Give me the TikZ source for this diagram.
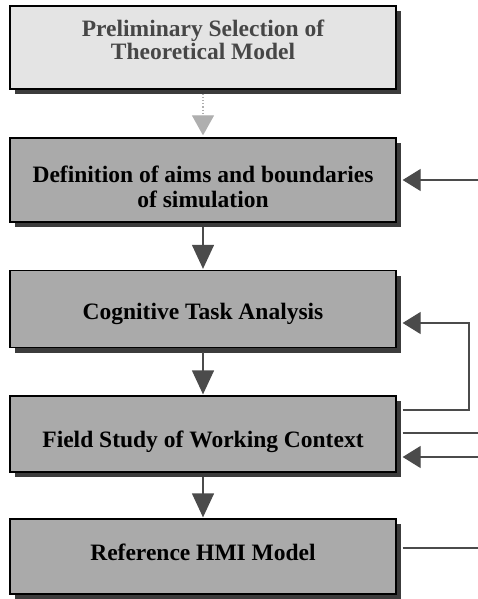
\documentclass[tikz,border=0pt]{standalone}
\usepackage{fontspec}
\setmainfont{Liberation Serif}
\usetikzlibrary{arrows.meta,shadows}
\definecolor{palefill}{RGB}{228,228,228}
\definecolor{boxfill}{RGB}{170,170,170}
\definecolor{shade}{RGB}{60,60,60}
\definecolor{paletext}{RGB}{70,70,70}
\definecolor{palearrow}{RGB}{175,175,175}
\definecolor{darkarrow}{RGB}{75,75,75}
\tikzset{
  stepbox/.style={draw=black, line width=1.3pt, fill=boxfill,
    minimum width=386pt, inner sep=0pt,
    drop shadow={shadow xshift=5pt, shadow yshift=-5pt, fill=shade, opacity=1}},
  palebox/.style={stepbox, fill=palefill},
  steptext/.style={anchor=base, inner sep=0pt, align=center,
    font=\fontsize{23.5}{25}\selectfont\bfseries},
  paletextstyle/.style={steptext, text=paletext,
    font=\fontsize{23.5}{23}\selectfont\bfseries},
  downarrow/.style={draw=darkarrow, line width=1.3pt,
    -{Triangle[length=24pt, width=22pt]}, darkarrow},
  palearrowline/.style={draw=palearrow, line width=1.2pt, dotted,
    -{Triangle[length=20pt, width=22pt, fill=palearrow]}},
  sidein/.style={draw=darkarrow, line width=1.2pt,
    -{Triangle[length=18pt, width=22pt]}, darkarrow},
  sideout/.style={draw=darkarrow, line width=1.2pt},
}
\begin{document}
\begin{tikzpicture}[x=1pt, y=-1pt]
  \useasboundingbox (0,0) rectangle (478,599);

  % step boxes
  \node[palebox, minimum height=83pt] (b1) at (203,47.5) {};
  \node[stepbox, minimum height=84pt] (b2) at (203,180) {};
  \node[stepbox, minimum height=77pt] (b3) at (203,309) {};
  \node[stepbox, minimum height=76pt] (b4) at (203,434) {};
  \node[stepbox, minimum height=75pt] (b5) at (203,556.5) {};

  % step titles, placed on the baseline of their last line
  \node[paletextstyle] (t1) at (203,60) {Preliminary Selection of\\Theoretical Model};
  \node[steptext] (t2) at (203,207) {Definition of aims and boundaries\\of simulation};
  \node[steptext] (t3) at (203,319) {Cognitive Task Analysis};
  \node[steptext] (t4) at (203,447) {Field Study of Working Context};
  \node[steptext] (t5) at (203,560) {Reference HMI Model};

  % vertical flow between the steps (shifts are in page units: negative = down)
  \draw[palearrowline] ([yshift=-4pt]b1.south) -- ([yshift=2pt]b2.north);
  \draw[downarrow] ([yshift=-4pt]b2.south) -- ([yshift=1pt]b3.north);
  \draw[downarrow] ([yshift=-4pt]b3.south) -- ([yshift=1pt]b4.north);
  \draw[downarrow] ([yshift=-4pt]b4.south) -- ([yshift=1pt]b5.north);

  % links on the right-hand side
  \coordinate (in2) at (478,180);
  \draw[sidein] (in2) -- ([xshift=6pt]b2.east);

  \coordinate (fbA) at (469,410);
  \coordinate (fbB) at (469,323);
  \draw[sidein] ([xshift=6pt,yshift=24pt]b4.east) -- (fbA) -- (fbB)
    -- ([xshift=6pt,yshift=-14pt]b3.east);

  \coordinate (out4) at (478,433);
  \draw[sideout] ([xshift=6pt,yshift=1pt]b4.east) -- (out4);

  \coordinate (in4) at (478,457);
  \draw[sidein] (in4) -- ([xshift=6pt,yshift=-23pt]b4.east);

  \coordinate (out5) at (478,548);
  \draw[sideout] ([xshift=6pt,yshift=8.5pt]b5.east) -- (out5);
\end{tikzpicture}
\end{document}
